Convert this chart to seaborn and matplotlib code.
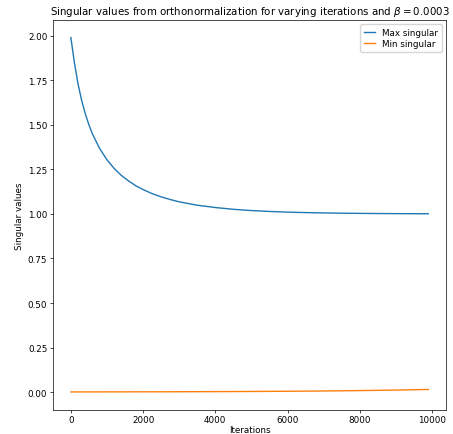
import numpy as np
import pandas as pd
import matplotlib
matplotlib.use('Agg')
import matplotlib.pyplot as plt
import seaborn as sns

# values
iters_max = [0, 100, 200, 300, 400, 500, 600, 800, 1000, 1200, 1400, 1600, 1800,
             2000, 2250, 2500, 2750, 3000, 3500, 4000, 4500, 5000, 5500, 6000,
             6500, 7000, 7500, 8000, 8500, 9000, 9500, 9900]
max_singular = [1.99, 1.846, 1.728, 1.636, 1.562, 1.500, 1.448, 1.366, 1.304, 1.255,
                1.216, 1.185, 1.158, 1.137, 1.114, 1.096, 1.081, 1.068, 1.049, 1.036,
                1.026, 1.019, 1.014, 1.010, 1.0077, 1.0057, 1.0042, 1.0031, 1.0023,
                1.0017, 1.0013, 1.001]

iters_min = [0, 1000, 2000, 3000, 4000, 5000, 6000, 7000, 8000, 9000, 9900]
min_singular = [0.0008, 0.0011, 0.0014, 0.0018, 0.0025, 0.0034, 0.0045, 0.0061,
                0.0083, 0.0112, 0.0146]

df = pd.concat([
    pd.DataFrame({'Iterations': iters_max, 'value': max_singular, 'series': 'Max singular'}),
    pd.DataFrame({'Iterations': iters_min, 'value': min_singular, 'series': 'Min singular'}),
])

fig = plt.figure(figsize=(4.53, 4.35), dpi=100)
ax = fig.add_axes([0.117, 0.056, 0.868, 0.896])

sns.lineplot(data=df, x='Iterations', y='value', hue='series',
             palette=['#1f77b4', '#ff7f0e'], linewidth=1.0, ax=ax)

ax.set_title(r'Singular values from orthonormalization for varying iterations and $\beta = 0.0003$',
             fontsize=7.4, pad=4)
ax.set_xlabel('Iterations', fontsize=6.3, labelpad=0.5)
ax.set_ylabel('Singular values', fontsize=6.3, labelpad=3)
ax.set_yticks([0, 0.25, 0.5, 0.75, 1.0, 1.25, 1.5, 1.75, 2.0])
ax.set_xticks([0, 2000, 4000, 6000, 8000, 10000])
ax.tick_params(labelsize=6.3, length=2.3, width=0.5, pad=1.8)
for s in ax.spines.values():
    s.set_linewidth(0.5)
ax.legend(loc='upper right', fontsize=6.3, title=None, handlelength=1.3,
          borderpad=0.4, labelspacing=0.3)

fig.savefig('out.png', dpi=100)
